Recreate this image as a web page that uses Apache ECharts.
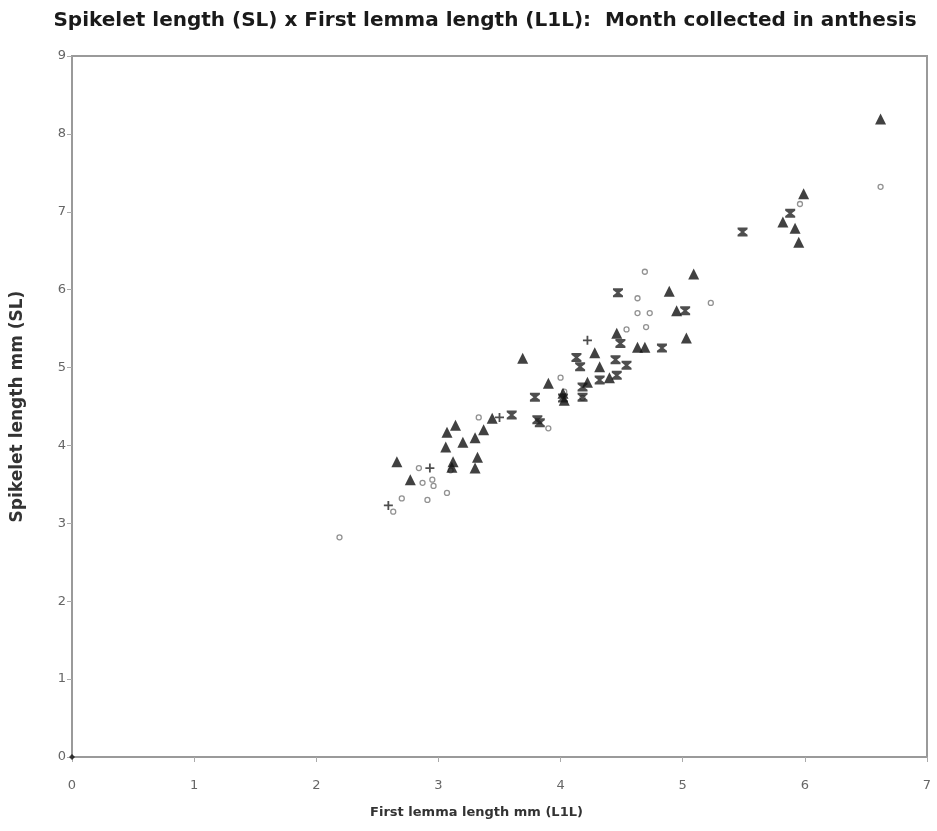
<!DOCTYPE html>
<html><head><meta charset="utf-8">
<script src="https://cdn.jsdelivr.net/npm/echarts@6/dist/echarts.min.js"></script>
<style>html,body{margin:0;padding:0;background:#fff}#c{width:937px;height:831px}</style>
</head><body><div id="c"></div>
<script>
const titleText = 'Spikelet length (SL) x First lemma length (L1L):  Month collected in anthesis';
const xTicks = [0,1,2,3,4,5,6,7];
const yTicks = [0,1,2,3,4,5,6,7,8,9];
const triangles = [
 [6.62,8.19],[5.99,7.23],[5.82,6.87],[5.92,6.79],[5.95,6.61],[5.09,6.20],[4.89,5.98],[4.95,5.73],
 [5.03,5.38],[4.46,5.44],[4.63,5.26],[4.69,5.26],[4.28,5.19],[4.32,5.01],[4.22,4.81],[4.40,4.87],
 [3.90,4.80],[4.03,4.58],[3.69,5.12],[3.44,4.35],[3.37,4.20],[3.30,4.10],[3.20,4.04],[3.07,4.17],
 [3.14,4.26],[3.06,3.98],[3.12,3.79],[3.32,3.85],[3.30,3.71],[2.66,3.79],[2.77,3.56],[3.11,3.72],
 [4.02,4.67]
];
const crosses = [
 [5.49,6.74],[5.88,6.98],[5.02,5.73],[4.47,5.96],[4.49,5.31],[4.83,5.25],[4.13,5.13],[4.45,5.10],
 [4.54,5.03],[4.16,5.01],[4.46,4.90],[4.32,4.84],[3.79,4.62],[4.02,4.61],[3.60,4.39],[3.81,4.33],
 [3.83,4.29],[4.18,4.62],[4.18,4.75]
];
const pluses = [[4.22,5.35],[3.50,4.36],[2.93,3.71],[2.59,3.23]];
const circles = [
 [6.62,7.32],[5.96,7.10],[4.69,6.23],[4.63,5.89],[4.63,5.70],[4.73,5.70],[5.23,5.83],[4.54,5.49],
 [4.70,5.52],[4.00,4.87],[4.03,4.69],[3.90,4.22],[3.33,4.36],[2.84,3.71],[2.87,3.52],[2.95,3.56],
 [2.96,3.48],[2.91,3.30],[3.07,3.39],[2.70,3.32],[2.63,3.15],[3.10,3.68],[2.19,2.82],[4.18,4.61]
];
const origin = [[0,0]];

const chart = echarts.init(document.getElementById('c'), null, {renderer:'canvas'});
const FONT = 'DejaVu Sans';
chart.setOption({
  animation:false,
  backgroundColor:'#fff',
  title:{text:titleText,left:480,textAlign:'center',top:6,
    textStyle:{fontFamily:FONT,fontSize:20,fontWeight:'bold',color:'#1a1a1a'}},
  grid:{left:72,right:10,top:56,bottom:74,show:true,borderColor:'#9a9a9a',borderWidth:2,backgroundColor:'#fff'},
  xAxis:{type:'value',min:0,max:7,interval:1,
    name:'First lemma length mm (L1L)',nameLocation:'middle',nameGap:49,
    nameTextStyle:{fontFamily:FONT,fontSize:13,fontWeight:'bold',color:'#333',padding:[0,46,0,0]},
    axisLine:{show:true,lineStyle:{color:'#9a9a9a',width:2}},
    axisTick:{show:true,length:5,inside:false,lineStyle:{color:'#aaa'}},
    axisLabel:{fontFamily:FONT,fontSize:13,color:'#666',margin:22,
      formatter:v=>xTicks.includes(v)?String(v):''},
    splitLine:{show:false}},
  yAxis:{type:'value',min:0,max:9,interval:1,
    name:'Spikelet length mm (SL)',nameLocation:'middle',nameGap:46,
    nameTextStyle:{fontFamily:FONT,fontSize:17,fontWeight:'bold',color:'#333'},
    axisLine:{show:true,lineStyle:{color:'#9a9a9a',width:2}},
    axisTick:{show:true,length:5,lineStyle:{color:'#aaa'}},
    axisLabel:{fontFamily:FONT,fontSize:13,color:'#666',margin:6,
      formatter:v=>yTicks.includes(v)?String(v):''},
    splitLine:{show:false}},
  series:[
    {name:'Circles',type:'scatter',data:circles,symbol:'circle',symbolSize:5,
      itemStyle:{color:'#fff',borderColor:'#777',borderWidth:1.3}},
    {name:'Plus',type:'scatter',data:pluses,symbol:'path://M4,0L6,0L6,4L10,4L10,6L6,6L6,10L4,10L4,6L0,6L0,4L4,4Z',symbolSize:9,
      itemStyle:{color:'#222'}},
    {name:'Cross',type:'scatter',data:crosses,symbol:'path://M0,0L10,0L10,2L6.5,5L10,8L10,10L0,10L0,8L3.5,5L0,2Z',symbolSize:[10,9],
      itemStyle:{color:'#222'}},
    {name:'Triangles',type:'scatter',data:triangles,symbol:'triangle',symbolSize:[11,11],
      itemStyle:{color:'#111'}},
    {name:'Origin',type:'scatter',data:origin,symbol:'diamond',symbolSize:6,
      itemStyle:{color:'#111'}}
  ]
});
</script></body></html>
